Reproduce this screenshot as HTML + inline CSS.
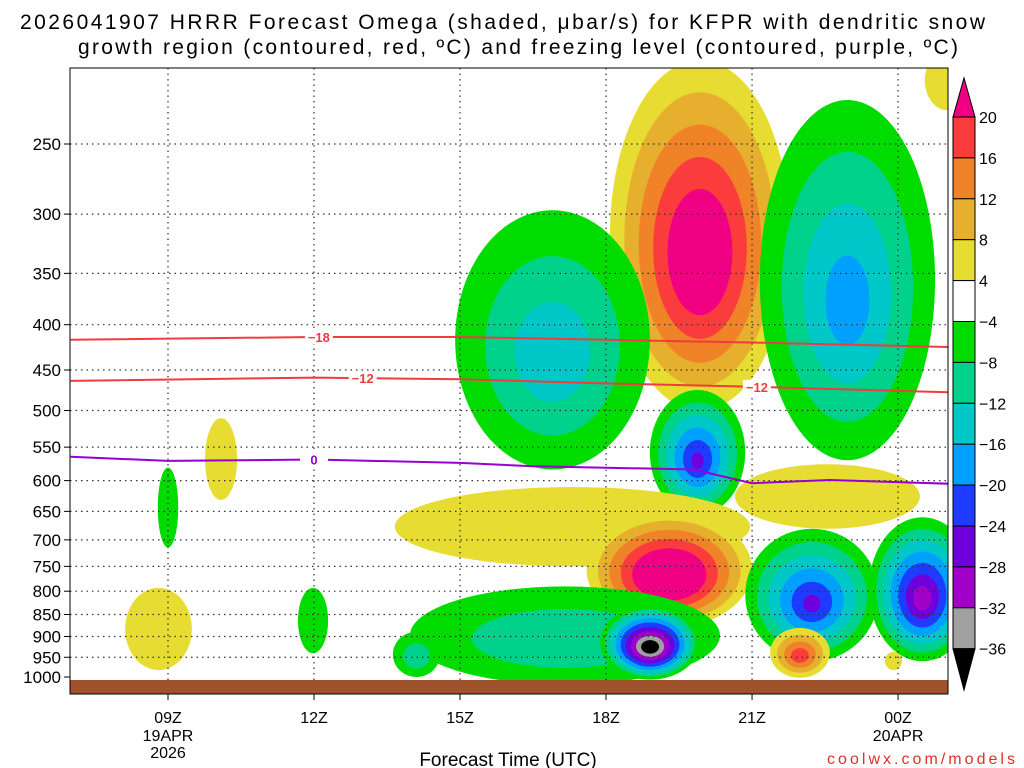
<!DOCTYPE html>
<html><head><meta charset="utf-8"><style>
html,body{margin:0;padding:0;background:#fff;width:1024px;height:768px;overflow:hidden}
svg{display:block;font-family:"Liberation Sans",sans-serif}
</style></head><body>
<svg id="c" width="1024" height="768" viewBox="0 0 1024 768">
<defs><clipPath id="pc"><rect x="70" y="68" width="878" height="612"/></clipPath></defs>
<text x="20" y="29" font-size="21" textLength="965">2026041907 HRRR Forecast Omega (shaded, μbar/s) for KFPR with dendritic snow</text>
<text x="78" y="54" font-size="21" textLength="880">growth region (contoured, red, ºC) and freezing level (contoured, purple, ºC)</text>
<g id="shade" clip-path="url(#pc)"></g>
<g id="grid"></g>
<g id="lines" clip-path="url(#pc)"></g>
<rect x="70" y="680" width="878" height="14" fill="#a0522d"/>
<rect x="70" y="68" width="878" height="626" fill="none" stroke="#000" stroke-width="1"/>
<g id="yax"></g>
<g id="xax"></g>
<text x="508" y="766" font-size="19" text-anchor="middle">Forecast Time (UTC)</text>
<text x="1015" y="764" font-size="16" fill="#e0302a" text-anchor="end" textLength="188">coolwx.com/models</text>
<g id="cbar"></g>
</svg>
<script>
// ---- data ----
const levels = [4, 8, 12, 16, 20];
const posColors = ["#e6dc32", "#e6af2d", "#f08228", "#fa3c3c", "#f00082"];
const negColors = ["#00dc00", "#00d28c", "#00c8c8", "#00a0ff", "#1e3cff", "#6e00dc", "#a000c8", "#a0a0a0", "#000000"];
const negLevels = [4, 8, 12, 16, 20, 24, 28, 32, 36];
// blobs: hour range, pressure range (hPa), peak omega
const blobH0 = [18.08, 14.9, 21.16, 18.9, 13.66, 17.6, 20.65, 13.97, 17.88, 20.86, 23.4, 21.37, 9.76, 8.79, 8.12, 11.67, 13.62, 23.73, 24.55];
const blobH1 = [21.78, 18.9, 24.76, 20.86, 20.96, 21.0, 24.45, 20.34, 19.93, 23.6, 25.6, 22.6, 10.42, 9.21, 9.49, 12.29, 14.59, 24.08, 25.48];
const blobP0 = [201, 297, 223, 474, 610, 650, 575, 790, 829, 680, 660, 880, 510, 580, 793, 793, 889, 937, 196];
const blobP1 = [500, 583, 569, 656, 750, 880, 680, 1020, 1007, 960, 960, 1002, 631, 714, 982, 940, 1000, 982, 229];
const blobPeak = [26, -14, -17, -24, 7, 30, 7, -11, -40, -24, -30, 18, 6, -6, 6, -6, -10, 5, 6];
const contourHours = [7, 12, 15, 18, 21, 25.1];
const c18 = [416, 413, 413, 416, 419, 424];
const c12 = [463, 459, 461, 466, 470, 477];
const frzHours = [7, 9, 12, 15, 16.5, 19.8, 21, 22.6, 25.1];
const frz = [564, 570, 568, 573, 578, 583, 604, 599, 605];
const pTicks = [250, 300, 350, 400, 450, 500, 550, 600, 650, 700, 750, 800, 850, 900, 950, 1000];
const hTicks = [9, 12, 15, 18, 21, 24];
const hLabels = ["09Z", "12Z", "15Z", "18Z", "21Z", "00Z"];
const cbLabels = ["20", "16", "12", "8", "4", "−4", "−8", "−12", "−16", "−20", "−24", "−28", "−32", "−36"];
// ---- axes ----
const NS = "http://www.w3.org/2000/svg";
const X = h => 168 + (h - 9) * 48.67;
const Y = p => 144 + Math.log(p / 250) / Math.log(4) * 533;
function mk(tag, attrs, parent) {
  const e = document.createElementNS(NS, tag);
  for (const k in attrs) e.setAttribute(k, attrs[k]);
  parent.appendChild(e); return e;
}
const shade = document.getElementById('shade');
blobPeak.forEach((pk, i) => {
  const cx = (X(blobH0[i]) + X(blobH1[i])) / 2, rx = (X(blobH1[i]) - X(blobH0[i])) / 2;
  const cy = (Y(blobP0[i]) + Y(blobP1[i])) / 2, ry = (Y(blobP1[i]) - Y(blobP0[i])) / 2;
  const a = Math.abs(pk);
  const lv = pk > 0 ? levels : negLevels, cols = pk > 0 ? posColors : negColors;
  lv.forEach((L, j) => {
    if (L > a) return;
    const s = 1 - (L - 4) / (a - 4 + 3);
    const e = mk('ellipse', {cx: cx, cy: cy + (1 - s) * ry * 0.15, rx: rx * s, ry: ry * s, fill: cols[j]}, shade);
    
    
  });
});
const grid = document.getElementById('grid'), yax = document.getElementById('yax'), xax = document.getElementById('xax');
pTicks.forEach(p => {
  const y = Y(p);
  if (p !== 1000) mk('line', {x1: 70, x2: 948, y1: y, y2: y, stroke: '#333', 'stroke-width': 1.2, 'stroke-dasharray': '1.5,4'}, grid);
  mk('line', {x1: 64, x2: 70, y1: y, y2: y, stroke: '#000'}, yax);
  const t = mk('text', {x: 61, y: y + 6, 'font-size': 17, 'text-anchor': 'end'}, yax);
  t.textContent = p;
  
  
});
hTicks.forEach((h, i) => {
  const x = X(h);
  mk('line', {x1: x, x2: x, y1: 68, y2: 680, stroke: '#333', 'stroke-width': 1.2, 'stroke-dasharray': '1.5,4'}, grid);
  mk('line', {x1: x, x2: x, y1: 694, y2: 700, stroke: '#000'}, xax);
  const t = mk('text', {x: x, y: 723, 'font-size': 16, 'text-anchor': 'middle'}, xax);
  t.textContent = hLabels[i];
  
  
});
[["19APR", 9, 741], ["2026", 9, 758], ["20APR", 24, 741]].forEach(d => {
  const t = mk('text', {x: X(d[1]), y: d[2], 'font-size': 16, 'text-anchor': 'middle'}, xax);
  t.textContent = d[0];
  
  
});
const lines = document.getElementById('lines');
function poly(hs, ps, col, name, labels) {
  const d = hs.map((h, i) => (i ? 'L' : 'M') + X(h).toFixed(1) + ',' + Y(ps[i]).toFixed(1)).join('');
  const pth = mk('path', {d: d, fill: 'none', stroke: col, 'stroke-width': 2}, lines);
  
  
  labels.forEach(l => {
    let k = 0; while (k < hs.length - 2 && hs[k + 1] < l[0]) k++;
    const f = (l[0] - hs[k]) / (hs[k + 1] - hs[k]);
    const y = Y(ps[k] + f * (ps[k + 1] - ps[k]));
    mk('rect', {x: X(l[0]) - 14, y: y - 7, width: 28, height: 14, fill: '#fff'}, lines);
    const t = mk('text', {x: X(l[0]), y: y + 5, 'font-size': 13, 'font-weight': 'bold', fill: col, 'text-anchor': 'middle'}, lines);
    t.textContent = l[1];
    
    
  });
}
poly(contourHours, c18, '#f03c3c', 'contour-minus18', [[12.1, '−18']]);
poly(contourHours, c12, '#f03c3c', 'contour-minus12', [[13.0, '−12'], [21.1, '−12']]);
poly(frzHours, frz, '#9600d2', 'freezing-level', [[12.0, '0']]);
// colorbar
const cb = document.getElementById('cbar');
const cbCols = ["#fa3c3c", "#f08228", "#e6af2d", "#e6dc32", "#ffffff", "#00dc00", "#00d28c", "#00c8c8", "#00a0ff", "#1e3cff", "#6e00dc", "#a000c8", "#a0a0a0"];
const cy0 = 117, step = 40.9;
mk('polygon', {points: `953,${cy0} 975,${cy0} 964,78`, fill: '#f00082', stroke: '#000'}, cb);
cbCols.forEach((c, i) => mk('rect', {x: 953, y: cy0 + i * step, width: 22, height: step, fill: c, stroke: '#000'}, cb));
const yb = cy0 + cbCols.length * step;
mk('polygon', {points: `953,${yb} 975,${yb} 964,690`, fill: '#000', stroke: '#000'}, cb);
cbLabels.forEach((l, i) => {
  const t = mk('text', {x: 979, y: cy0 + i * step + 6, 'font-size': 16}, cb);
  t.textContent = l;
  
  
});
</script>
</body></html>
